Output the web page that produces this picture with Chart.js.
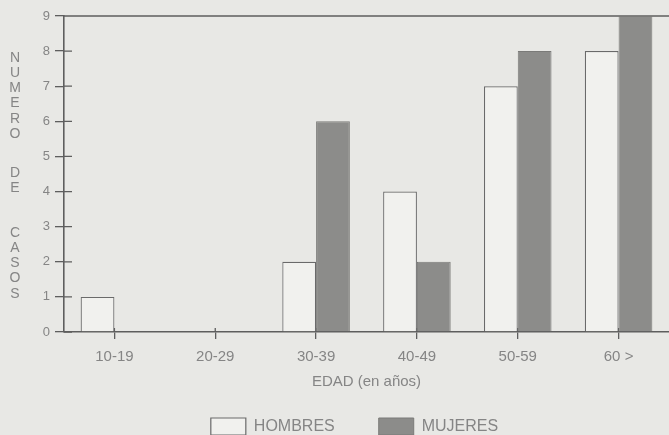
<!DOCTYPE html>
<html>
<head>
<meta charset="utf-8">
<script src="https://cdn.jsdelivr.net/npm/chart.js@4.4.0/dist/chart.umd.min.js"></script>
<style>
  html, body { margin: 0; padding: 0; background: #e8e8e5; overflow: hidden; }
  #chart { display: block; }
</style>
</head>
<body>
<canvas id="chart" width="669" height="435"></canvas>
<script>
// Data
const ageGroups = ["10-19", "20-29", "30-39", "40-49", "50-59", "60 >"];
const seriesNames = ["HOMBRES", "MUJERES"];
const hombres = [1, 0, 2, 4, 7, 8];
const mujeres = [0, 0, 6, 2, 8, 9];
const yMax = 9;
const yTitleWords = ["NUMERO", "DE", "CASOS"];
const xTitle = "EDAD (en años)";

// Colours
const AXIS = "#5e5e5e";
const TEXT = "#858585";

Chart.defaults.font.family = "'Liberation Sans', Arial, sans-serif";

// top line, inner tick halves, stacked y title, legend nudge
const extras = {
  id: "extras",
  afterLayout(chart) {
    const lg = chart.legend;
    lg.left += 20; lg.right += 20;
    lg.top -= 17;
    lg.bottom = chart.height + 20; // legend clips to its box, let it run off the bottom
  },
  beforeDatasetsDraw(chart) {
    const ctx = chart.ctx, area = chart.chartArea;
    const x = chart.scales.x, y = chart.scales.y;
    ctx.save();
    ctx.strokeStyle = AXIS;
    ctx.lineWidth = 1.3;
    ctx.beginPath();
    ctx.moveTo(area.left, area.top);
    ctx.lineTo(area.right, area.top);
    y.ticks.forEach((t, i) => {
      const py = y.getPixelForTick(i);
      ctx.moveTo(area.left, py);
      ctx.lineTo(area.left + 8, py);
    });
    x.ticks.forEach((t, i) => {
      const px = x.getPixelForTick(i);
      ctx.moveTo(px, area.bottom);
      ctx.lineTo(px, area.bottom - 4);
    });
    ctx.stroke();
    ctx.restore();
  },
  afterDraw(chart) {
    const ctx = chart.ctx;
    ctx.save();
    ctx.fillStyle = TEXT;
    ctx.font = "14px 'Liberation Sans', Arial, sans-serif";
    ctx.textAlign = "center";
    ctx.textBaseline = "middle";
    const starts = [58, 173, 233];
    yTitleWords.forEach((w, wi) => {
      [...w].forEach((ch, ci) => ctx.fillText(ch, 15, starts[wi] + ci * 15.2));
    });
    ctx.restore();
  }
};

new Chart(document.getElementById("chart"), {
  type: "bar",
  data: {
    labels: ageGroups,
    datasets: [
      {
        label: seriesNames[0],
        data: hombres,
        backgroundColor: "#f1f1ee",
        borderColor: "#6a6a6a",
        borderWidth: 1.2
      },
      {
        label: seriesNames[1],
        data: mujeres,
        backgroundColor: "#8c8c8a",
        borderColor: "#7a7a78",
        borderWidth: 1
      }
    ]
  },
  options: {
    responsive: false,
    animation: false,
    devicePixelRatio: 1,
    layout: { padding: { top: 16, left: 0, right: 0, bottom: 0 } },
    datasets: { bar: { categoryPercentage: 0.67, barPercentage: 1.0 } },
    plugins: {
      tooltip: { enabled: false },
      legend: {
        position: "bottom",
        maxHeight: 44,
        labels: {
          boxWidth: 35,
          boxHeight: 17,
          padding: 44,
          color: TEXT,
          font: { size: 16 }
        }
      }
    },
    scales: {
      x: {
        afterFit: s => { s.height = 59; },
        grid: { offset: false, drawOnChartArea: false, tickLength: 7, color: AXIS, lineWidth: 1.3 },
        border: { color: AXIS, width: 1.6 },
        ticks: { color: TEXT, font: { size: 15 }, padding: 9, maxRotation: 0 },
        title: { display: true, text: xTitle, color: TEXT, font: { size: 15 }, padding: 0 }
      },
      y: {
        min: 0,
        max: yMax,
        afterFit: s => { s.width = 64; },
        grid: { drawOnChartArea: false, tickLength: 9, color: AXIS, lineWidth: 1.3 },
        border: { color: AXIS, width: 1.6 },
        ticks: { stepSize: 1, color: TEXT, font: { size: 13 }, padding: 5 }
      }
    }
  },
  plugins: [extras]
});
</script>
</body>
</html>
